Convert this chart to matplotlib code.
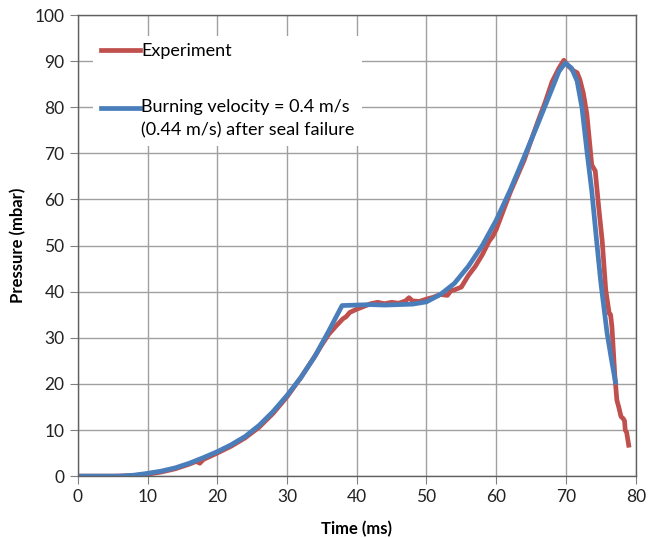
import matplotlib
matplotlib.use("Agg")
import matplotlib.pyplot as plt
from matplotlib.legend_handler import HandlerLine2D

# experiment trace
t_exp = [0, 5, 8, 10, 12, 14, 16, 17, 17.5, 18, 20, 22, 24, 26, 28, 30, 32, 34, 35, 36,
         37, 38, 38.5, 39, 40, 41, 42, 43, 44, 45, 46, 47, 47.5, 48, 49, 50, 51, 52, 53,
         53.5, 54, 55, 56, 57, 58, 59, 59.5, 60, 61, 62, 63, 64, 65, 66, 67, 68, 69,
         69.7, 70.3, 71, 71.6, 72, 72.5, 73, 73.7, 74.2, 74.7, 75.2, 75.7, 76.2, 76.4,
         76.6, 77.0, 77.3, 77.6, 77.9, 78.2, 78.4, 78.5, 78.7, 79.0]
p_exp = [0, 0, 0.1, 0.4, 0.9, 1.6, 2.6, 3.2, 2.8, 3.6, 5.0, 6.5, 8.3, 10.6, 13.6, 17.2,
         21.4, 26.0, 28.5, 30.8, 32.5, 34.1, 34.6, 35.5, 36.2, 36.8, 37.4, 37.7, 37.4,
         37.7, 37.5, 38.0, 38.7, 38.0, 37.9, 38.4, 38.8, 39.4, 39.2, 40.2, 40.4, 41.0,
         43.5, 45.5, 48.0, 51.0, 52.0, 53.5, 57.5, 61.5, 65.0, 68.5, 72.8, 77.0, 81.0,
         85.5, 88.5, 90.2, 89.0, 88.0, 87.5, 86.0, 83.0, 78.5, 67.5, 66.2, 58.3, 51.0,
         40.5, 35.3, 35.0, 32.3, 22.0, 16.5, 14.8, 12.9, 12.5, 12.0, 10.0, 9.5, 6.7]

# model: burning velocity 0.4 m/s, 0.44 m/s after seal failure
t_mod = [0, 6, 8, 10, 12, 14, 16, 18, 20, 22, 24, 26, 28, 30, 32, 34, 36, 37.9, 40, 42,
         44, 46, 48, 50, 52, 54, 56, 58, 60, 62, 64, 66, 68, 69, 69.9, 70.8, 71.6,
         72.3, 73.0, 73.7, 74.4, 75.0, 75.9, 76.5, 77.1]
p_mod = [0, 0, 0.2, 0.6, 1.1, 1.8, 2.8, 4.0, 5.3, 6.8, 8.6, 11.0, 14.0, 17.5, 21.4,
         26.0, 31.5, 37.0, 37.1, 37.2, 37.1, 37.2, 37.3, 37.8, 39.4, 41.8, 45.5, 50.0,
         55.5, 62.0, 69.2, 76.5, 84.0, 87.8, 89.6, 88.5, 85.7, 79.9, 70.6, 61.9, 51.0,
         42.0, 31.0, 25.5, 20.4]

x_ticks = list(range(0, 81, 10))
y_ticks = list(range(0, 101, 10))

RED = "#C0504D"
BLUE = "#4A7EBB"
GRID = "#A0A0A0"


class FirstLineHandler(HandlerLine2D):
    # put the legend line next to the first line of a two-line label
    def __init__(self, shift, **kw):
        super().__init__(**kw)
        self.shift = shift

    def create_artists(self, legend, orig_handle, xdescent, ydescent, width, height,
                       fontsize, trans):
        arts = super().create_artists(legend, orig_handle, xdescent, ydescent, width,
                                      height, fontsize, trans)
        for a in arts:
            a.set_ydata([y + self.shift for y in a.get_ydata()])
        return arts


plt.rcParams["font.family"] = ["Lato", "DejaVu Sans"]

fig = plt.figure(figsize=(6.48, 5.38), dpi=100)
ax = fig.add_axes([0.120, 0.115, 0.861, 0.857])

l_exp, = ax.plot(t_exp, p_exp, color=RED, lw=3.4, label="Experiment",
                 solid_joinstyle="round")
l_mod, = ax.plot(t_mod, p_mod, color=BLUE, lw=3.4,
                 label="Burning velocity = 0.4 m/s\n(0.44 m/s) after seal failure",
                 solid_joinstyle="round")

ax.set_xlim(0, 80)
ax.set_ylim(0, 100)
ax.set_xticks(x_ticks)
ax.set_yticks(y_ticks)
ax.grid(True, color=GRID, lw=1)
ax.set_axisbelow(True)
ax.tick_params(direction="out", length=6, color="#808080", labelsize=12.5,
               labelcolor="#222222")
for s in ax.spines.values():
    s.set_color("#606060")
    s.set_linewidth(1)

ax.set_xlabel("Time (ms)", fontsize=12, fontweight="bold", labelpad=11)
ax.set_ylabel("Pressure (mbar)", fontsize=12, fontweight="bold", labelpad=6)

leg = ax.legend(loc="upper left", bbox_to_anchor=(0.012, 0.975), fontsize=13,
                frameon=True, fancybox=False, edgecolor="none", facecolor="white",
                framealpha=1, handlelength=2.15, handletextpad=0.1, labelspacing=2.2,
                borderpad=0.4,
                handler_map={l_mod: FirstLineHandler(shift=8)})
for line in leg.get_lines():
    line.set_linewidth(3.4)
leg.get_texts()[1].set_linespacing(1.6)

fig.savefig("out.png", dpi=100)
